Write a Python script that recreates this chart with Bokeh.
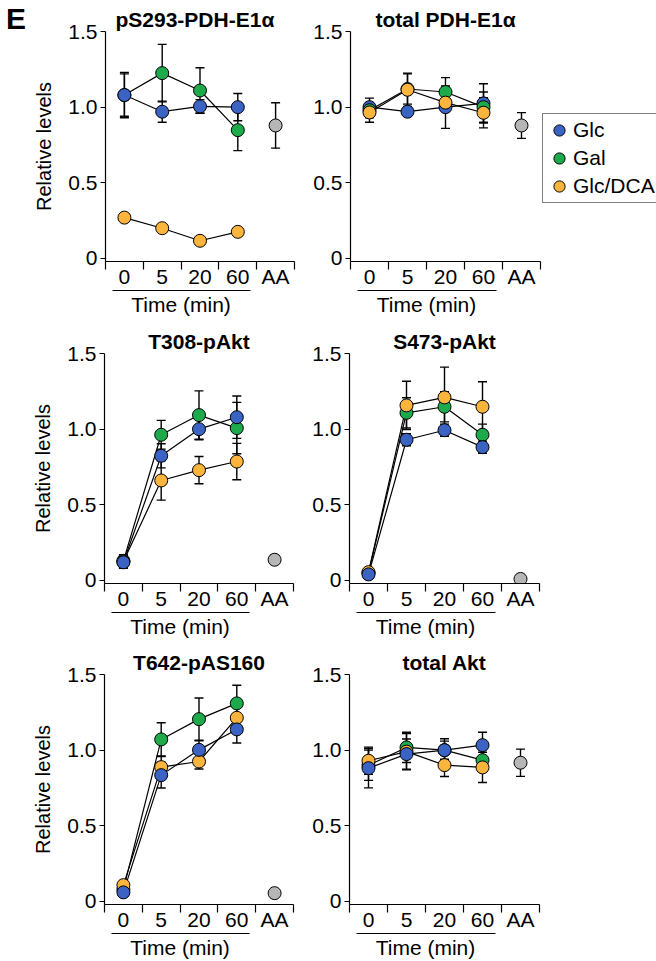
from bokeh.plotting import figure
from bokeh.models import (Range1d, LinearAxis, FixedTicker, Whisker, TeeHead,
                          ColumnDataSource, Legend, LegendItem, Div)
from bokeh.layouts import column, row
from bokeh.embed import file_html
from bokeh.resources import INLINE

FONT = "Liberation Sans"

# ---------------- data ----------------
panel_letter = "E"
time_labels = ["0", "5", "20", "60"]
aa_label = "AA"
series_names = ["Glc", "Gal", "Glc/DCA"]
x_title = "Time (min)"
y_title = "Relative levels"
y_ticks = [0, 0.5, 1, 1.5]
y_tick_labels = ["0", "0.5", "1.0", "1.5"]

# pS293-PDH-E1a
ppdh_glc = [1.08, 0.97, 1.005, 1.00]
ppdh_glc_err = [0.15, 0.07, 0.045, 0.09]
ppdh_gal = [1.08, 1.225, 1.11, 0.848]
ppdh_gal_err = [0.14, 0.19, 0.15, 0.135]
ppdh_dca = [0.27, 0.20, 0.117, 0.176]
ppdh_dca_err = [0.01, 0.01, 0.01, 0.01]
ppdh_aa = 0.879
ppdh_aa_err = 0.15

# total PDH-E1a
tpdh_glc = [1.00, 0.97, 1.00, 1.025]
tpdh_glc_err = [0.06, 0.03, 0.14, 0.13]
tpdh_gal = [0.98, 1.12, 1.10, 1.00]
tpdh_gal_err = [0.05, 0.10, 0.095, 0.10]
tpdh_dca = [0.965, 1.115, 1.03, 0.963]
tpdh_dca_err = [0.065, 0.11, 0.05, 0.10]
tpdh_aa = 0.879
tpdh_aa_err = 0.085

# T308-pAkt
t308_glc = [0.12, 0.824, 1.00, 1.079]
t308_glc_err = [0.04, 0.08, 0.07, 0.14]
t308_gal = [0.13, 0.963, 1.093, 1.007]
t308_gal_err = [0.04, 0.095, 0.16, 0.17]
t308_dca = [0.125, 0.661, 0.729, 0.786]
t308_dca_err = [0.04, 0.13, 0.09, 0.12]
t308_aa = 0.137
t308_aa_err = 0.03

# S473-pAkt
s473_glc = [0.04, 0.93, 0.993, 0.881]
s473_glc_err = [0.02, 0.04, 0.04, 0.04]
s473_gal = [0.05, 1.108, 1.148, 0.963]
s473_gal_err = [0.02, 0.10, 0.10, 0.07]
s473_dca = [0.055, 1.157, 1.21, 1.148]
s473_dca_err = [0.02, 0.16, 0.20, 0.165]
s473_aa = 0.01
s473_aa_err = 0.01

# T642-pAS160
t642_glc = [0.06, 0.835, 1.002, 1.137]
t642_glc_err = [0.01, 0.085, 0.06, 0.09]
t642_gal = [0.08, 1.071, 1.205, 1.309]
t642_gal_err = [0.02, 0.11, 0.14, 0.12]
t642_dca = [0.108, 0.888, 0.925, 1.214]
t642_dca_err = [0.01, 0.07, 0.05, 0.10]
t642_aa = 0.055
t642_aa_err = 0.01

# total Akt
takt_glc = [0.881, 0.974, 1.00, 1.033]
takt_glc_err = [0.13, 0.10, 0.075, 0.085]
takt_gal = [0.90, 1.018, 1.00, 0.934]
takt_gal_err = [0.10, 0.10, 0.06, 0.07]
takt_dca = [0.93, 0.99, 0.901, 0.886]
takt_dca_err = [0.09, 0.12, 0.075, 0.10]
takt_aa = 0.917
takt_aa_err = 0.09

# ---------------- style ----------------
COLORS = {"Glc": "#3a63c4", "Gal": "#1caa4b", "Glc/DCA": "#fbb43c"}
AA_COLOR = "#b6b6b6"
TICK_FS = "21px"
YLAB_FS = "20px"
TITLE_FS = "21px"

xs = list(range(1, len(time_labels) + 1))
x_aa = len(time_labels) + 1
all_x = xs + [x_aa]
all_labels = time_labels + [aa_label]
bounds_x = [x - 0.5 for x in all_x] + [x_aa + 0.5]
x_time_center = (xs[0] + xs[-1]) / 2


def make_panel(title, data, aa, aa_err, left_col, border_left, border_top,
               bottom_border, order, title_align="center", title_offset=0):
    p = figure(frame_width=189 if left_col else 190, frame_height=230,
               min_border_left=border_left,
               min_border_right=4 if left_col else 117,
               min_border_top=border_top, min_border_bottom=bottom_border,
               x_range=Range1d(bounds_x[0], bounds_x[-1]),
               y_range=Range1d(-0.02, 1.5),
               x_axis_type=None, y_axis_type=None,
               toolbar_location=None, output_backend="svg",
               outline_line_color=None, background_fill_color="white",
               border_fill_color="white")
    p.title.text = title
    p.title.text_font = FONT
    p.title.text_font_size = TITLE_FS
    p.title.text_font_style = "bold"
    p.title.text_color = "black"
    p.title.align = title_align
    p.title.offset = title_offset
    p.title.standoff = 1

    ykw = dict(ticker=FixedTicker(ticks=y_ticks),
               major_label_overrides=dict(zip(y_ticks, y_tick_labels)),
               major_tick_out=5, major_tick_in=0, minor_tick_out=0, minor_tick_in=0,
               major_label_standoff=3, axis_line_width=1.2, major_tick_line_width=1.2,
               major_label_text_font=FONT, major_label_text_font_size=TICK_FS,
               major_label_text_color="black")
    if left_col:
        ykw.update(axis_label=y_title, axis_label_text_font=FONT,
                   axis_label_text_font_size=YLAB_FS, axis_label_text_font_style="normal",
                   axis_label_text_color="black", axis_label_standoff=10)
    p.add_layout(LinearAxis(**ykw), "left")

    # category axis: ticks at the boundaries, labels at the centres
    xa = LinearAxis(ticker=FixedTicker(ticks=all_x, minor_ticks=bounds_x),
                    major_label_overrides=dict(zip(all_x, all_labels)),
                    major_tick_out=0, major_tick_in=0, minor_tick_out=8, minor_tick_in=0,
                    minor_tick_line_width=1.2, axis_line_width=1.2,
                    major_label_standoff=-5, major_label_text_font=FONT,
                    major_label_text_font_size=TICK_FS, major_label_text_color="black")
    p.add_layout(xa, "below")
    # bracket under the time points with its title
    xb = LinearAxis(ticker=FixedTicker(ticks=[x_time_center]),
                    bounds=(xs[0] - 0.32, xs[-1] + 0.34),
                    major_label_overrides={x_time_center: x_title},
                    major_tick_out=0, major_tick_in=0,
                    minor_tick_out=0, minor_tick_in=0, major_label_standoff=2,
                    axis_line_width=1.2, major_label_text_font=FONT,
                    major_label_text_font_size=TICK_FS, major_label_text_font_style="normal",
                    major_label_text_color="black")
    p.add_layout(xb, "below")

    sources = {}
    for name in order:
        vals, errs = data[name]
        sources[name] = ColumnDataSource(dict(
            x=xs, y=vals,
            lo=[v - e for v, e in zip(vals, errs)],
            hi=[v + e for v, e in zip(vals, errs)]))
    aa_src = ColumnDataSource(dict(x=[x_aa], y=[aa], lo=[aa - aa_err], hi=[aa + aa_err]))

    for src in list(sources.values()) + [aa_src]:
        p.add_layout(Whisker(source=src, base="x", lower="lo", upper="hi",
                             line_color="black", line_width=1.4,
                             upper_head=TeeHead(size=9, line_width=1.4, line_color="black"),
                             lower_head=TeeHead(size=9, line_width=1.4, line_color="black")))
    for name in order:
        p.line("x", "y", source=sources[name], line_color="black", line_width=1.2)
    renderers = {}
    for name in order:
        renderers[name] = p.scatter("x", "y", source=sources[name], size=13,
                                    fill_color=COLORS[name], line_color="black",
                                    line_width=1)
    p.scatter("x", "y", source=aa_src, size=13, fill_color=AA_COLOR,
              line_color="black", line_width=1)
    return p, renderers


ORDER = ["Gal", "Glc/DCA", "Glc"]

p1, _ = make_panel("pS293-PDH-E1\u03b1",
                   {"Glc": (ppdh_glc, ppdh_glc_err), "Gal": (ppdh_gal, ppdh_gal_err),
                    "Glc/DCA": (ppdh_dca, ppdh_dca_err)},
                   ppdh_aa, ppdh_aa_err, True, 74, 31, 61, ORDER,
                   title_align="left", title_offset=10)
p2, rend2 = make_panel("total PDH-E1\u03b1",
                       {"Glc": (tpdh_glc, tpdh_glc_err), "Gal": (tpdh_gal, tpdh_gal_err),
                        "Glc/DCA": (tpdh_dca, tpdh_dca_err)},
                       tpdh_aa, tpdh_aa_err, False, 52, 31, 61, ["Glc", "Gal", "Glc/DCA"])
p3, _ = make_panel("T308-pAkt",
                   {"Glc": (t308_glc, t308_glc_err), "Gal": (t308_gal, t308_gal_err),
                    "Glc/DCA": (t308_dca, t308_dca_err)},
                   t308_aa, t308_aa_err, True, 104, 31, 60, ORDER)
p4, _ = make_panel("S473-pAkt",
                   {"Glc": (s473_glc, s473_glc_err), "Gal": (s473_gal, s473_gal_err),
                    "Glc/DCA": (s473_dca, s473_dca_err)},
                   s473_aa, s473_aa_err, False, 52, 31, 60, ORDER)
p5, _ = make_panel("T642-pAS160",
                   {"Glc": (t642_glc, t642_glc_err), "Gal": (t642_gal, t642_gal_err),
                    "Glc/DCA": (t642_dca, t642_dca_err)},
                   t642_aa, t642_aa_err, True, 104, 31, 40, ORDER)
p6, _ = make_panel("total Akt",
                   {"Glc": (takt_glc, takt_glc_err), "Gal": (takt_gal, takt_gal_err),
                    "Glc/DCA": (takt_dca, takt_dca_err)},
                   takt_aa, takt_aa_err, False, 52, 31, 40, ORDER)

legend = Legend(items=[LegendItem(label=n, renderers=[rend2[n]]) for n in series_names],
                location=(2, 58), orientation="vertical",
                border_line_color="black", border_line_width=1.2,
                background_fill_color="white", background_fill_alpha=1,
                label_text_font=FONT, label_text_font_size=TICK_FS,
                label_text_color="black",
                glyph_width=28, glyph_height=28, label_height=20,
                spacing=0, label_standoff=0, padding=2, margin=0)
p2.add_layout(legend, "right")

letter = Div(text=panel_letter, width=30, height=40, margin=0,
             styles={"font-family": FONT, "font-size": "30px", "font-weight": "bold",
                     "line-height": "1", "padding-top": "4px", "padding-left": "6px",
                     "color": "black"})

layout = column(row(letter, p1, p2), row(p3, p4), row(p5, p6))
open("out.html", "w").write(file_html(layout, INLINE))
